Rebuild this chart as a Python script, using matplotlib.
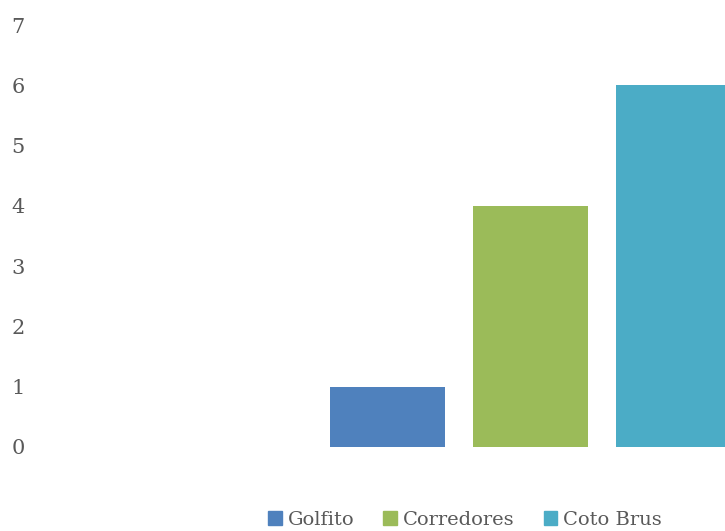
import matplotlib
matplotlib.use("Agg")
import matplotlib.pyplot as plt

# Number of cases by canton
cantons = ["Golfito", "Corredores", "Coto Brus"]
values = [1, 4, 6]
colors = ["#4F81BD", "#9BBB59", "#4BACC6"]
y_ticks = [0, 1, 2, 3, 4, 5, 6, 7]

plt.rcParams["font.family"] = ["DejaVu Serif"]
text_color = "#595959"

fig = plt.figure(figsize=(7.25, 5.31), dpi=100)
ax = fig.add_axes([0.055, 0.1582, 0.945, 0.7947])

positions = list(range(len(cantons)))
bars = ax.bar(positions, values, width=0.8, color=colors, label=cantons)

ax.set_ylim(0, 7)
ax.set_xlim(-2.43, 2.36)
ax.set_yticks(y_ticks)
ax.set_yticklabels([str(t) for t in y_ticks], fontsize=15, color=text_color)
ax.tick_params(axis="y", length=0, pad=11)
ax.set_xticks([])
for s in ax.spines.values():
    s.set_visible(False)

handles = [plt.Rectangle((0, 0), 1, 1, color=c) for c in colors]
fig.legend(handles, cantons, loc="center", bbox_to_anchor=(465 / 725, 1 - 520 / 531),
           ncol=3, frameon=False, fontsize=14, labelcolor=text_color,
           handlelength=0.7, handleheight=0.7, handletextpad=0.3, columnspacing=1.5)

fig.savefig("out.png", dpi=100)
